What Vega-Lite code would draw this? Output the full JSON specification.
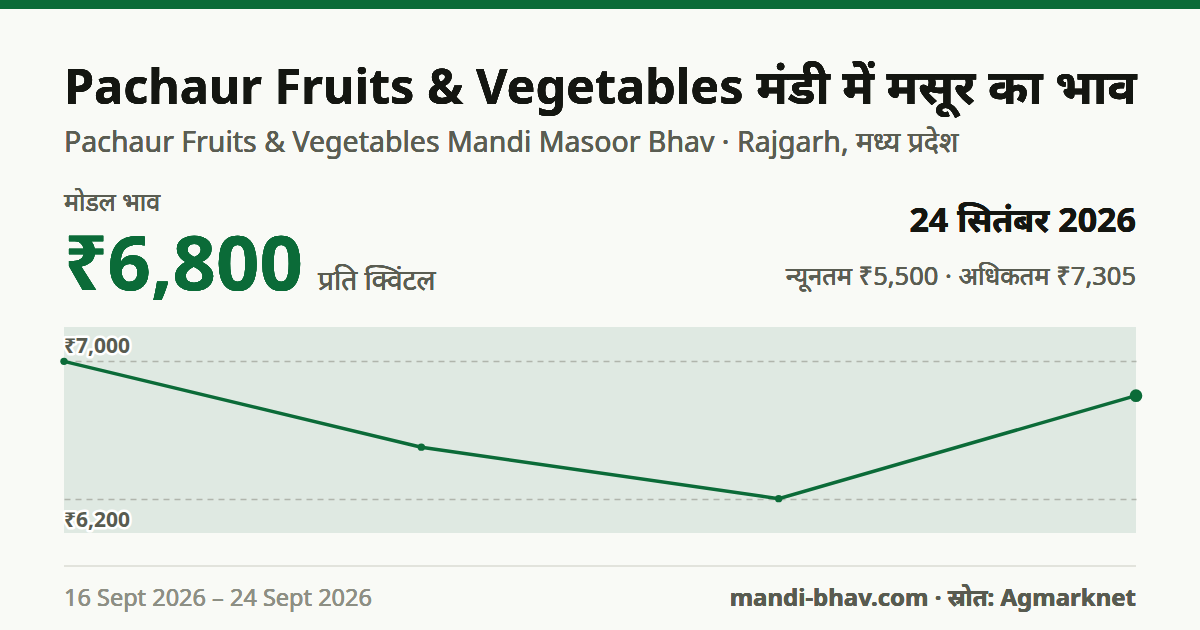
{
  "$schema": "https://vega.github.io/schema/vega-lite/v6.json",
  "width": 1072,
  "height": 206,
  "autosize": {"type": "none"},
  "padding": {"left": 64, "right": 64, "top": 327, "bottom": 97},
  "background": "#f9faf6",
  "config": {
    "view": {"fill": "#dfe9e2", "stroke": null},
    "font": "Noto Sans",
    "text": {"font": "Noto Sans"}
  },
  "datasets": {
    "prices": [
      {"date": "2026-09-16", "price": 7000},
      {"date": "2026-09-19", "price": 6500},
      {"date": "2026-09-22", "price": 6200},
      {"date": "2026-09-24", "price": 6800}
    ],
    "gridlabels": [
      {"value": 7000, "label": "₹7,000", "pos": "top"},
      {"value": 6200, "label": "₹6,200", "pos": "bottom"}
    ]
  },
  "data": {"name": "prices"},
  "encoding": {
    "x": {"field": "date", "type": "ordinal", "scale": {"type": "point", "padding": 0}, "axis": null},
    "y": {"field": "price", "type": "quantitative", "scale": {"domain": [6000, 7200], "nice": false, "zero": false},
      "axis": {"values": [6200, 7000], "grid": true, "gridDash": [6, 5], "gridColor": "#b0b5ac", "gridWidth": 1.5, "labels": false, "ticks": false, "domain": false, "title": null}}
  },
  "layer": [
    {"mark": {"type": "line", "color": "#0b6b38", "strokeWidth": 3.5}},
    {"mark": {"type": "circle", "color": "#0b6b38", "opacity": 1},
     "encoding": {"size": {"condition": {"test": "datum.date == '2026-09-24'", "value": 160}, "value": 55}}},
    {"data": {"name": "gridlabels"}, "transform": [{"filter": "datum.pos == 'top'"}],
     "mark": {"type": "text", "align": "left", "baseline": "alphabetic", "dy": -8, "fontSize": 21, "fontWeight": "bold", "stroke": "#ffffff", "strokeWidth": 5, "strokeJoin": "round", "color": "#ffffff"},
     "encoding": {"x": {"datum": "2026-09-16"}, "y": {"field": "value", "type": "quantitative"}, "text": {"field": "label"}}},
    {"data": {"name": "gridlabels"}, "transform": [{"filter": "datum.pos == 'top'"}],
     "mark": {"type": "text", "align": "left", "baseline": "alphabetic", "dy": -8, "fontSize": 21, "fontWeight": "bold", "color": "#585b50"},
     "encoding": {"x": {"datum": "2026-09-16"}, "y": {"field": "value", "type": "quantitative"}, "text": {"field": "label"}}},
    {"data": {"name": "gridlabels"}, "transform": [{"filter": "datum.pos == 'bottom'"}],
     "mark": {"type": "text", "align": "left", "baseline": "alphabetic", "dy": 28, "fontSize": 21, "fontWeight": "bold", "stroke": "#ffffff", "strokeWidth": 5, "strokeJoin": "round", "color": "#ffffff"},
     "encoding": {"x": {"datum": "2026-09-16"}, "y": {"field": "value", "type": "quantitative"}, "text": {"field": "label"}}},
    {"data": {"name": "gridlabels"}, "transform": [{"filter": "datum.pos == 'bottom'"}],
     "mark": {"type": "text", "align": "left", "baseline": "alphabetic", "dy": 28, "fontSize": 21, "fontWeight": "bold", "color": "#585b50"},
     "encoding": {"x": {"datum": "2026-09-16"}, "y": {"field": "value", "type": "quantitative"}, "text": {"field": "label"}}},
    {"mark": {"type": "rect", "color": "#0b6b38"},
     "encoding": {"x": {"value": -64}, "x2": {"value": 1136}, "y": {"value": -327}, "y2": {"value": -318}}},
    {"mark": {"type": "rule", "color": "#e2e3dc", "strokeWidth": 2},
     "encoding": {"x": {"datum": "2026-09-16"}, "x2": {"datum": "2026-09-24"}, "y": {"value": 239}}},
    {"mark": {"type": "text", "align": "left", "baseline": "alphabetic", "fontSize": 48.5, "fontWeight": "bold", "color": "#141611"},
     "encoding": {"x": {"datum": "2026-09-16"}, "y": {"value": -223}, "text": {"value": "Pachaur Fruits & Vegetables मंडी में मसूर का भाव"}}},
    {"mark": {"type": "text", "align": "left", "baseline": "alphabetic", "fontSize": 28.5, "color": "#5a5d52"},
     "encoding": {"x": {"datum": "2026-09-16"}, "y": {"value": -175}, "text": {"value": "Pachaur Fruits & Vegetables Mandi Masoor Bhav · Rajgarh, मध्य प्रदेश"}}},
    {"mark": {"type": "text", "align": "left", "baseline": "alphabetic", "fontSize": 25, "color": "#5a5d52"},
     "encoding": {"x": {"datum": "2026-09-16"}, "y": {"value": -116}, "text": {"value": "मोडल भाव"}}},
    {"mark": {"type": "text", "align": "left", "baseline": "alphabetic", "fontSize": 76, "fontWeight": "bold", "color": "#0b6b38"},
     "encoding": {"x": {"datum": "2026-09-16"}, "y": {"value": -37}, "text": {"value": "₹6,800"}}},
    {"mark": {"type": "text", "align": "left", "baseline": "alphabetic", "fontSize": 28, "color": "#5a5d52", "dx": 254},
     "encoding": {"x": {"datum": "2026-09-16"}, "y": {"value": -37}, "text": {"value": "प्रति क्विंटल"}}},
    {"mark": {"type": "text", "align": "right", "baseline": "alphabetic", "fontSize": 34, "fontWeight": "bold", "color": "#141611"},
     "encoding": {"x": {"datum": "2026-09-24"}, "y": {"value": -95}, "text": {"value": "24 सितंबर 2026"}}},
    {"mark": {"type": "text", "align": "right", "baseline": "alphabetic", "fontSize": 25.5, "color": "#5a5d52"},
     "encoding": {"x": {"datum": "2026-09-24"}, "y": {"value": -42}, "text": {"value": "न्यूनतम ₹5,500 · अधिकतम ₹7,305"}}},
    {"mark": {"type": "text", "align": "left", "baseline": "alphabetic", "fontSize": 23.5, "color": "#8d8f84"},
     "encoding": {"x": {"datum": "2026-09-16"}, "y": {"value": 279}, "text": {"value": "16 Sept 2026 – 24 Sept 2026"}}},
    {"mark": {"type": "text", "align": "right", "baseline": "alphabetic", "fontSize": 24, "fontWeight": "bold", "color": "#585b50"},
     "encoding": {"x": {"datum": "2026-09-24"}, "y": {"value": 279}, "text": {"value": "mandi-bhav.com · स्रोत: Agmarknet"}}}
  ]
}
